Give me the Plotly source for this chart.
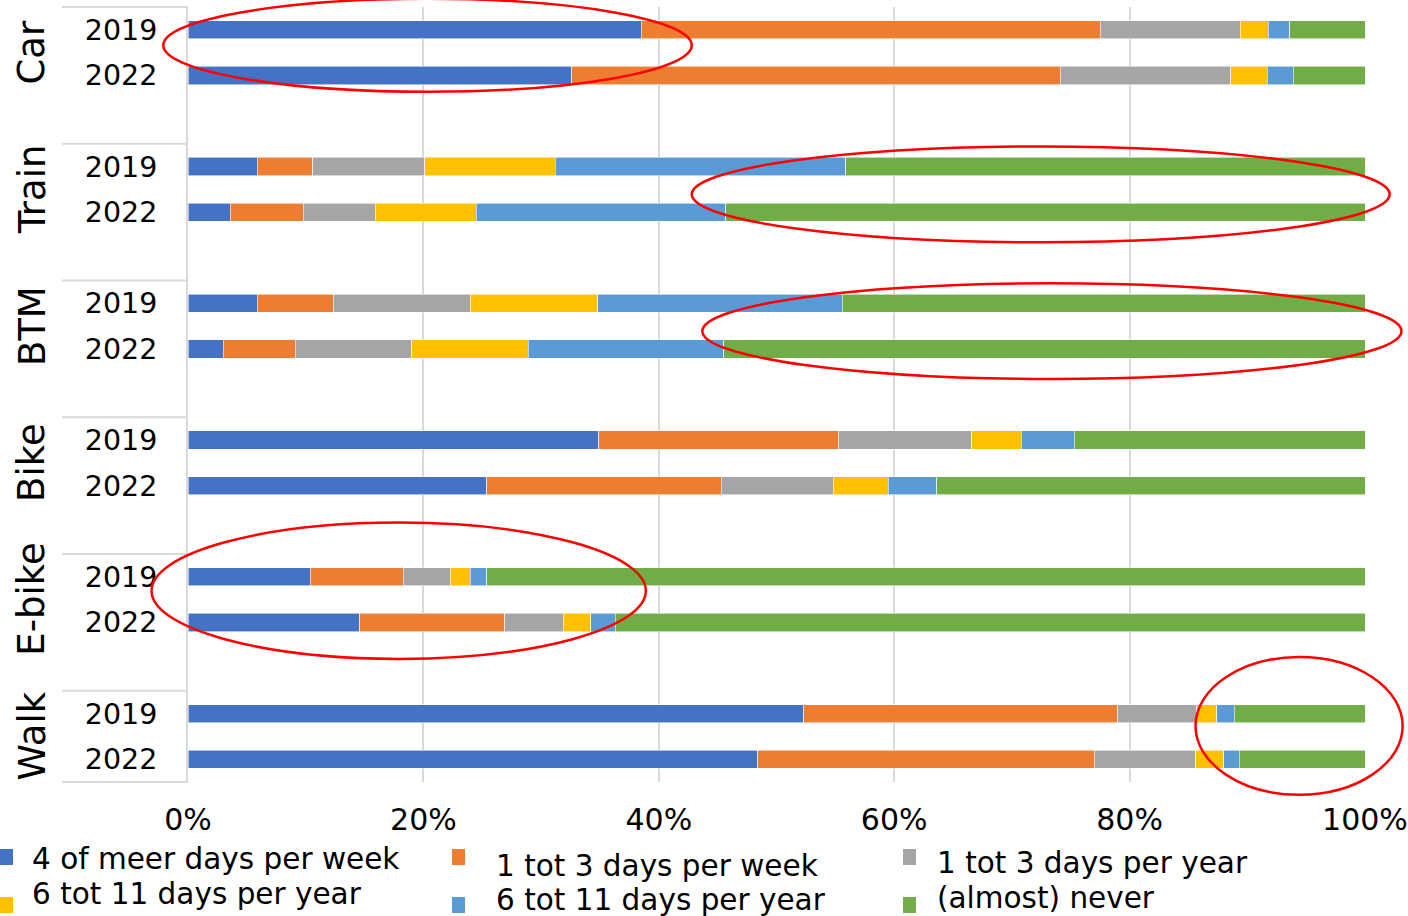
import plotly.graph_objects as go

# ---- data ----
modes = ["Car", "Train", "BTM", "Bike", "E-bike", "Walk"]
years = ["2019", "2022"]
series_names = [
    "4 of meer days per week",
    "1 tot 3 days per week",
    "1 tot 3 days per year",
    "6 tot 11 days per year",
    "6 tot 11 days per year",
    "(almost) never",
]
# order of rows: Car 2019, Car 2022, Train 2019, Train 2022, BTM..., Bike..., E-bike..., Walk...
s_4plus_week = [38.5, 32.6, 5.9, 3.6, 5.9, 3.0, 34.9, 25.4, 10.4, 14.6, 52.3, 48.4]
s_1to3_week = [39.0, 41.5, 4.7, 6.2, 6.5, 6.1, 20.4, 19.9, 7.9, 12.3, 26.7, 28.6]
s_1to3_year = [11.9, 14.5, 9.5, 6.1, 11.6, 9.9, 11.3, 9.5, 4.0, 5.0, 6.7, 8.6]
s_6to11_year_a = [2.4, 3.1, 11.1, 8.6, 10.8, 9.9, 4.2, 4.7, 1.7, 2.3, 1.7, 2.4]
s_6to11_year_b = [1.8, 2.2, 24.7, 21.2, 20.8, 16.6, 4.5, 4.1, 1.4, 2.1, 1.5, 1.3]
s_never = [6.4, 6.1, 44.1, 54.3, 44.4, 54.5, 24.7, 36.4, 74.6, 63.7, 11.1, 10.7]
x_ticks = [0, 20, 40, 60, 80, 100]
x_ticklabels = ["0%", "20%", "40%", "60%", "80%", "100%"]

series_values = [s_4plus_week, s_1to3_week, s_1to3_year, s_6to11_year_a, s_6to11_year_b, s_never]
colors = ["#4472C4", "#ED7D31", "#A5A5A5", "#FFC000", "#5B9BD5", "#70AD47"]

# highlight ellipses (x in %, y in row units)
ellipses = [
    (-2.1, -0.68, 42.8, 1.36),
    (42.8, 2.56, 102.1, 4.66),
    (43.7, 5.56, 103.1, 7.66),
    (-3.1, 10.81, 38.9, 13.80),
    (85.6, 13.76, 103.2, 16.78),
]

# ---- layout helpers ----
W, H = 1408, 916
L, R, T, B = 188, 43, 7, 134
plot_w = W - L - R
plot_h = H - T - B

ROWS_PER_GROUP = 3
n_rows = ROWS_PER_GROUP * len(modes) - 1
y_lo, y_hi = -0.5, n_rows - 0.5

ypos, ytext = [], []
for g, m in enumerate(modes):
    for k, yr in enumerate(years):
        ypos.append(ROWS_PER_GROUP * g + k)
        ytext.append(yr)

def py(r):
    return (y_hi - r) / (y_hi - y_lo)

def px(v):
    return v / 100.0

def pix_x(X):
    return (X - L) / plot_w

def pix_y(Y):
    return (H - B - Y) / plot_h

fig = go.Figure()
for name, color, vals in zip(series_names, colors, series_values):
    fig.add_trace(go.Bar(
        x=vals, y=ypos, orientation="h", name=name, width=0.4,
        marker=dict(color=color, line=dict(color="rgba(255,255,255,0.7)", width=0.8)),
    ))

shapes = []
# group divider lines in the label area
for g in range(len(modes) + 1):
    r = ROWS_PER_GROUP * g - 0.5 if g < len(modes) else y_hi
    shapes.append(dict(type="line", xref="paper", yref="paper",
                       x0=pix_x(62), x1=0, y0=py(r), y1=py(r),
                       line=dict(color="#d9d9d9", width=2)))
for (x0, y0, x1, y1) in ellipses:
    shapes.append(dict(type="circle", xref="paper", yref="paper",
                       x0=px(x0), x1=px(x1), y0=py(y0), y1=py(y1),
                       line=dict(color="#FF0000", width=2.5), layer="above"))

annotations = []
for g, m in enumerate(modes):
    annotations.append(dict(text=m, xref="paper", yref="y", x=pix_x(32),
                            y=ROWS_PER_GROUP * g + 0.5, textangle=-90, showarrow=False,
                            xanchor="center", yanchor="middle",
                            font=dict(size=37, color="black")))

# legend laid out in three columns, two rows (row-major order like the original)
leg_cols = [(0, 30), (452, 494), (903, 935)]   # (marker left px, text left px)
leg_text_y = [[859, 894], [866, 900], [863, 898]]
leg_marker_y = [857, 905]
for i, (name, color) in enumerate(zip(series_names, colors)):
    col, row = i % 3, i // 3
    mx, tx = leg_cols[col]
    my = leg_marker_y[row]
    shapes.append(dict(type="rect", xref="paper", yref="paper",
                       x0=pix_x(mx), x1=pix_x(mx + 13), y0=pix_y(my - 8), y1=pix_y(my + 8),
                       fillcolor=color, line=dict(width=0)))
    annotations.append(dict(text=name, xref="paper", yref="paper",
                            x=pix_x(tx), y=pix_y(leg_text_y[col][row]),
                            xanchor="left", yanchor="middle", showarrow=False,
                            font=dict(size=29.5, color="black")))

fig.update_layout(
    barmode="stack", width=W, height=H, autosize=False,
    margin=dict(l=L, r=R, t=T, b=B, pad=0, autoexpand=False),
    plot_bgcolor="white", paper_bgcolor="white",
    font=dict(family="DejaVu Sans", size=28, color="black"),
    shapes=shapes, annotations=annotations, showlegend=False,
)
fig.update_xaxes(range=[0, 100], tickvals=x_ticks, ticktext=x_ticklabels, automargin=False,
                 showgrid=True, gridcolor="#d9d9d9", gridwidth=2, zeroline=False,
                 showline=False, ticks="", ticklabelstandoff=17, tickfont=dict(size=30))
fig.update_yaxes(range=[y_hi, y_lo], tickvals=ypos, ticktext=ytext, showgrid=False,
                 automargin=False,
                 zeroline=False, showline=True, linecolor="#d9d9d9", linewidth=2,
                 ticks="", ticklabelstandoff=23, tickfont=dict(size=28.5))

fig.write_html(
    "out.html",
    config={"displayModeBar": False},
    post_script=(
        "document.documentElement.style.margin='0';"
        "document.documentElement.style.overflow='hidden';"
        "document.documentElement.style.height='916px';"
        "document.body.style.margin='0';document.body.style.padding='0';"
        "document.body.style.overflow='hidden';document.body.style.height='916px';"
    ),
)
